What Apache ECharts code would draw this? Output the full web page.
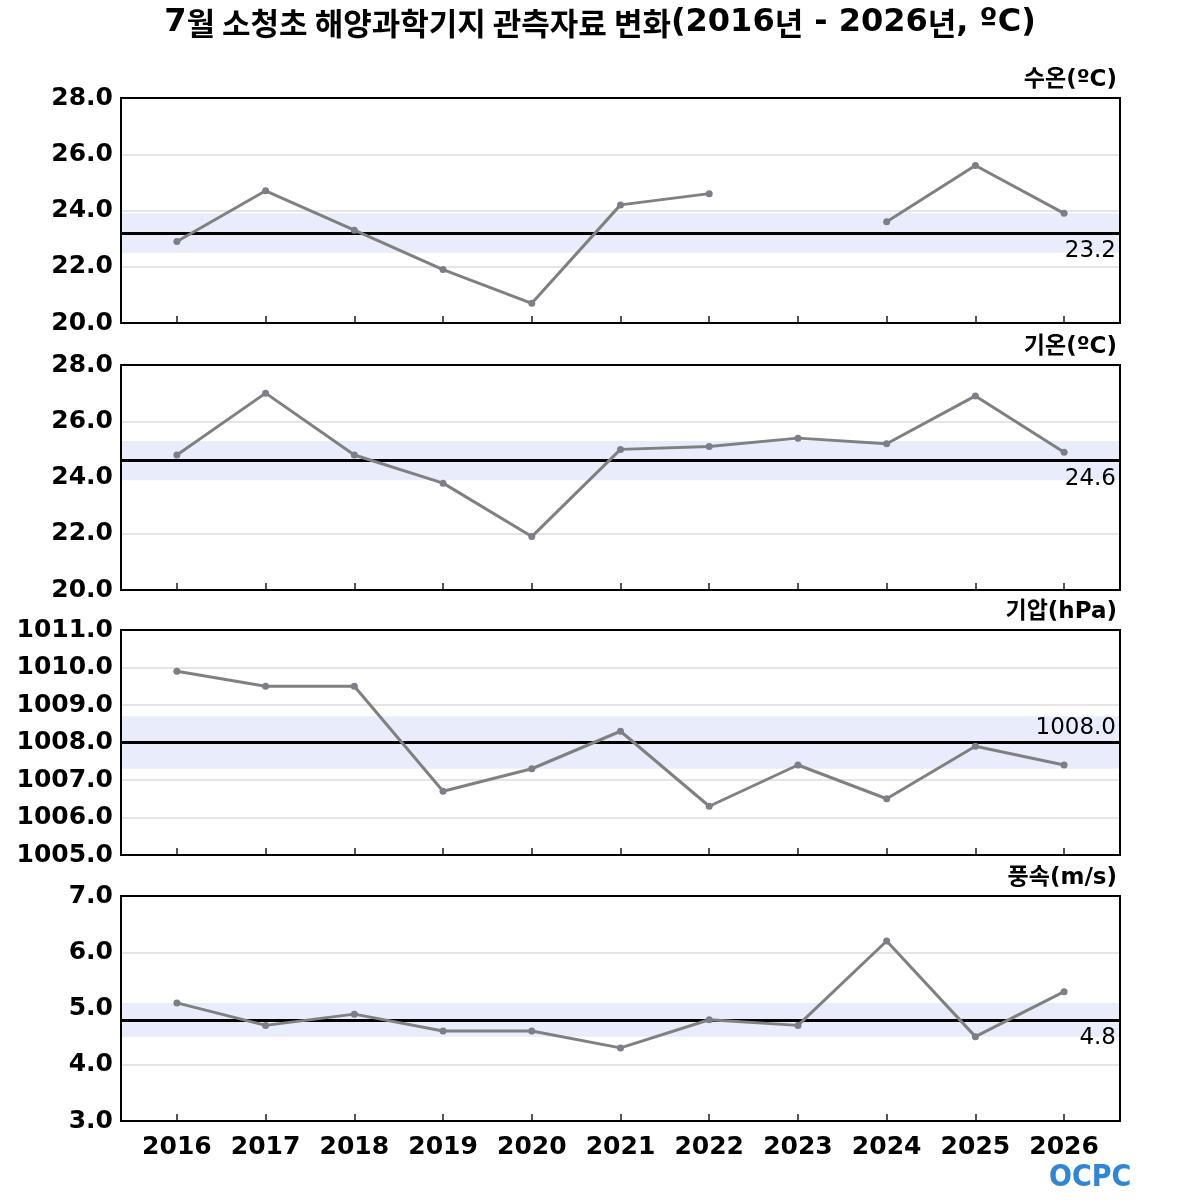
<!DOCTYPE html>
<html>
<head>
<meta charset="utf-8">
<script src="https://cdn.jsdelivr.net/npm/echarts@6/dist/echarts.min.js"></script>
<style>
  html, body { margin: 0; padding: 0; background: #fff; }
  #main { width: 1200px; height: 1200px; }
</style>
</head>
<body>
<div id="main"></div>
<script>
// data
var years = [2016, 2017, 2018, 2019, 2020, 2021, 2022, 2023, 2024, 2025, 2026];
var waterTemp = [22.9, 24.7, 23.3, 21.9, 20.7, 24.2, 24.6, null, 23.6, 25.6, 23.9];
var airTemp = [24.8, 27.0, 24.8, 23.8, 21.9, 25.0, 25.1, 25.4, 25.2, 26.9, 24.9];
var pressure = [1009.9, 1009.5, 1009.5, 1006.7, 1007.3, 1008.3, 1006.3, 1007.4, 1006.5, 1007.9, 1007.4];
var windSpeed = [5.1, 4.7, 4.9, 4.6, 4.6, 4.3, 4.8, 4.7, 6.2, 4.5, 5.3];
var panelNames = ['수온(ºC)', '기온(ºC)', '기압(hPa)', '풍속(m/s)'];
var means = [23.2, 24.6, 1008.0, 4.8];
var bandLow = [22.5, 23.9, 1007.3, 4.5];
var bandHigh = [23.9, 25.3, 1008.7, 5.1];
var yMin = [20, 20, 1005, 3];
var yMax = [28, 28, 1011, 7];
var yStep = [2, 2, 1, 1];
var meanLabelPos = ['insideEndBottom', 'insideEndBottom', 'insideEndTop', 'insideEndBottom'];
var meanLabelGap = [7, 7, 3, 7];

var allSeries = [waterTemp, airTemp, pressure, windSpeed];
var tops = [98, 365, 630, 896];
var panelHeight = 225;
var gridLeft = 121, gridWidth = 999;

var myChart = echarts.init(document.getElementById('main'));

var grids = [], xAxes = [], yAxes = [], series = [], graphics = [];

allSeries.forEach(function (vals, i) {
	grids.push({
		left: gridLeft, width: gridWidth, top: tops[i], height: panelHeight
	});
	xAxes.push({
		type: 'value', gridIndex: i,
		min: 2015.37, max: 2026.63,
		axisLine: { show: false },
		splitLine: { show: false },
		axisTick: { show: true, inside: true, length: 7, customValues: years, lineStyle: { color: '#555', width: 2 } },
		axisLabel: {
			show: i === 3, customValues: years, margin: 14,
			fontFamily: 'DejaVu Sans', fontWeight: 'bold', fontSize: 25, color: '#000',
			formatter: function (v) { return String(v); }
		}
	});
	yAxes.push({
		type: 'value', gridIndex: i,
		min: yMin[i], max: yMax[i], interval: yStep[i],
		axisLine: { show: false },
		axisTick: { show: false },
		splitLine: { show: true, lineStyle: { color: '#dcdcdc', width: 1.5 } },
		axisLabel: {
			margin: 8,
			fontFamily: 'DejaVu Sans', fontWeight: 'bold', fontSize: 25, color: '#000',
			formatter: function (v) { return v.toFixed(1); }
		}
	});
	series.push({
		type: 'line', xAxisIndex: i, yAxisIndex: i,
		data: years.map(function (y, k) { return [y, vals[k]]; }),
		connectNulls: false,
		symbol: 'circle', symbolSize: 7,
		itemStyle: { color: '#7c7e88' },
		lineStyle: { color: '#808080', width: 3 },
		z: 5,
		markArea: {
			silent: true,
			itemStyle: { color: '#e9ecfb' },
			data: [[{ yAxis: bandLow[i] }, { yAxis: bandHigh[i] }]]
		},
		markLine: {
			silent: true, symbol: 'none',
			lineStyle: { color: '#000', width: 3, type: 'solid' },
			label: {
				show: true, position: meanLabelPos[i], distance: [4, meanLabelGap[i]],
				fontFamily: 'DejaVu Sans', fontSize: 23, color: '#000',
				formatter: means[i].toFixed(1)
			},
			data: [{ yAxis: means[i] }]
		}
	});
	// panel frame
	graphics.push({
		type: 'rect', z: 100, silent: true,
		shape: { x: gridLeft, y: tops[i], width: gridWidth, height: panelHeight },
		style: { fill: 'none', stroke: '#000', lineWidth: 2 }
	});
	graphics.push({
		type: 'text', right: 83, top: tops[i] - 29,
		style: {
			text: panelNames[i], fill: '#000',
			font: 'bold 23px "DejaVu Sans", "Noto Sans CJK KR"'
		}
	});
});

graphics.push({
	type: 'text', left: 1049, top: 1163,
	style: {
		text: 'OCPC',
		font: 'bold 30px "DejaVu Sans Condensed", "DejaVu Sans"',
		fill: '#2f86d4'
	}
});

var option = {
	animation: false,
	backgroundColor: '#fff',
	title: {
		text: '{l|7}{k|월 소청초 해양과학기지 관측자료 변화}{l|(2016}{k|년}{l| - 2026}{k|년}{l|, ºC)}',
		left: 'center', top: 2,
		textStyle: {
			rich: {
				l: { fontFamily: 'DejaVu Sans', fontWeight: 'bold', fontSize: 32, color: '#000' },
				k: { fontFamily: 'Noto Sans CJK KR', fontWeight: 'bold', fontSize: 31, color: '#000' }
			}
		}
	},
	grid: grids,
	xAxis: xAxes,
	yAxis: yAxes,
	series: series,
	graphic: graphics
};
myChart.setOption(option);
</script>
</body>
</html>
